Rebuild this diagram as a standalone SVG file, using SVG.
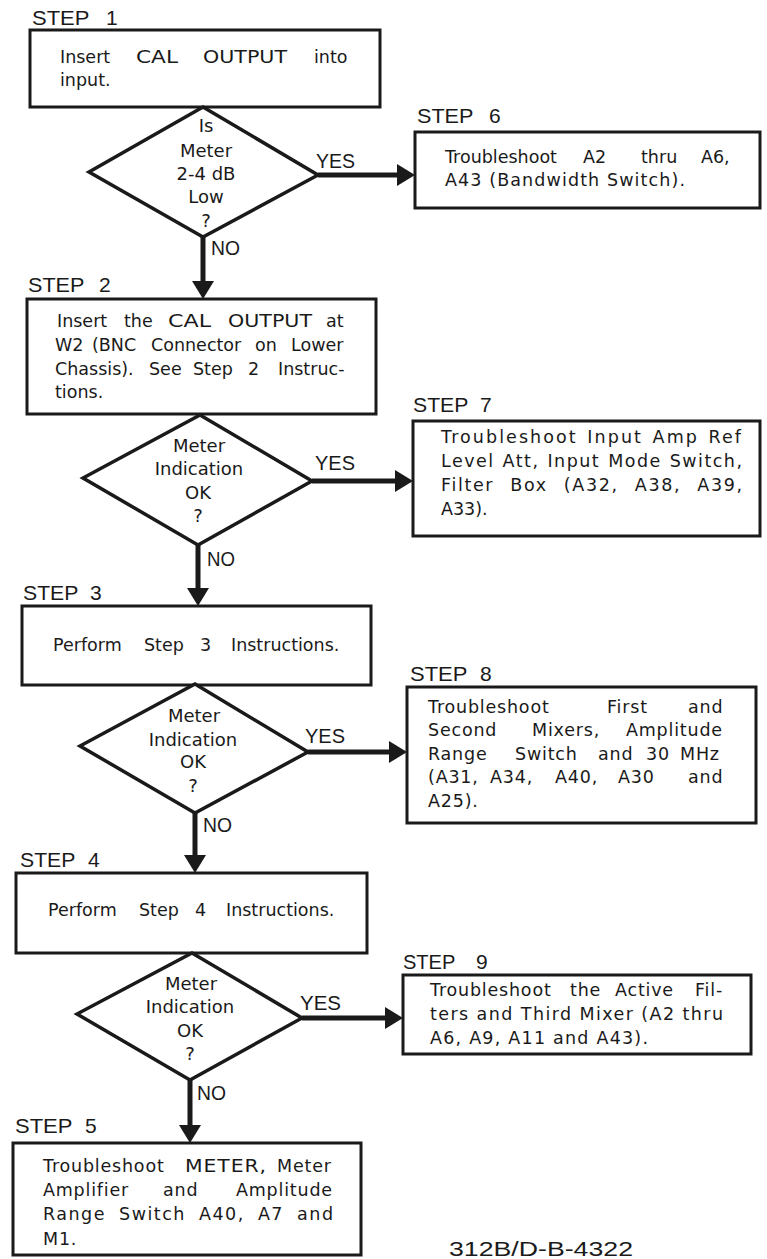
<svg xmlns="http://www.w3.org/2000/svg" width="767" height="1259" viewBox="0 0 767 1259">
<style>
.box{fill:#fff;stroke:#1a1a1a;stroke-width:3;stroke-linejoin:miter}
.dia{fill:#fff;stroke:#1a1a1a;stroke-width:3.5;stroke-linejoin:miter}
.con{stroke:#1a1a1a;stroke-width:5;fill:none}
.t{font-family:"DejaVu Sans","Liberation Sans",Arial,sans-serif;font-size:17.5px;fill:#1a1a1a}
.w{letter-spacing:0.8px}
.d{font-family:"DejaVu Sans","Liberation Sans",Arial,sans-serif;font-size:18px;fill:#1a1a1a;text-anchor:middle}
.lbl{font-family:"Liberation Sans",Arial,sans-serif;font-size:21px;fill:#1a1a1a}
.yn{font-family:"Liberation Sans",Arial,sans-serif;font-size:19.5px;fill:#1a1a1a}
</style>
<defs>
<marker id="ah" viewBox="0 0 18 22" markerWidth="18" markerHeight="22" refX="8" refY="11" orient="auto" markerUnits="userSpaceOnUse">
<path d="M0,0 L18,11 L0,22 Z" fill="#1a1a1a"/>
</marker>
</defs>
<rect width="767" height="1259" fill="#fff"/>

<g id="connectors">
<line class="con" x1="318" y1="175" x2="405" y2="175" marker-end="url(#ah)"/>
<line class="con" x1="203" y1="237" x2="203" y2="289" marker-end="url(#ah)"/>
<line class="con" x1="312" y1="481" x2="403" y2="481" marker-end="url(#ah)"/>
<line class="con" x1="198" y1="545" x2="198" y2="596" marker-end="url(#ah)"/>
<line class="con" x1="308" y1="752" x2="397" y2="752" marker-end="url(#ah)"/>
<line class="con" x1="195" y1="813" x2="195" y2="863" marker-end="url(#ah)"/>
<line class="con" x1="302" y1="1018" x2="393" y2="1018" marker-end="url(#ah)"/>
<line class="con" x1="190" y1="1080" x2="190" y2="1133" marker-end="url(#ah)"/>
<text class="yn" x="316" y="168" textLength="39" lengthAdjust="spacingAndGlyphs">YES</text>
<text class="yn" x="211" y="255" textLength="29" lengthAdjust="spacingAndGlyphs">NO</text>
<text class="yn" x="315" y="470" textLength="40" lengthAdjust="spacingAndGlyphs">YES</text>
<text class="yn" x="207" y="566" textLength="28" lengthAdjust="spacingAndGlyphs">NO</text>
<text class="yn" x="305" y="743" textLength="40" lengthAdjust="spacingAndGlyphs">YES</text>
<text class="yn" x="203" y="832" textLength="29" lengthAdjust="spacingAndGlyphs">NO</text>
<text class="yn" x="300" y="1010" textLength="41" lengthAdjust="spacingAndGlyphs">YES</text>
<text class="yn" x="197" y="1100" textLength="29" lengthAdjust="spacingAndGlyphs">NO</text>
</g>

<g id="step1">
<text class="lbl" y="25"><tspan x="32" textLength="57" lengthAdjust="spacingAndGlyphs">STEP</tspan> <tspan x="106">1</tspan></text>
<rect class="box" x="30" y="30" width="350" height="77"/>
<text class="t" y="63"><tspan x="60">Insert</tspan> <tspan x="136" textLength="42" lengthAdjust="spacingAndGlyphs">CAL</tspan> <tspan x="203" textLength="84" lengthAdjust="spacingAndGlyphs">OUTPUT</tspan> <tspan x="314">into</tspan></text>
<text class="t" x="60" y="86">input.</text>
</g>

<g id="decision1">
<polygon class="dia" points="203,107 318,175 203,237 89,172"/>
<text class="d" x="206" y="132">Is</text>
<text class="d" x="206" y="157">Meter</text>
<text class="d" x="206" y="180">2-4 dB</text>
<text class="d" x="206" y="203">Low</text>
<text class="d" x="206" y="227">?</text>
</g>

<g id="step6">
<text class="lbl" y="123"><tspan x="417" textLength="56" lengthAdjust="spacingAndGlyphs">STEP</tspan> <tspan x="489">6</tspan></text>
<rect class="box" x="415" y="132" width="345" height="76"/>
<text class="t" y="163"><tspan x="445">Troubleshoot</tspan> <tspan x="583">A2</tspan> <tspan x="641">thru</tspan> <tspan x="701">A6,</tspan></text>
<text class="t" x="445" y="186" textLength="240" lengthAdjust="spacing">A43 (Bandwidth Switch).</text>
</g>

<g id="step2">
<text class="lbl" y="292"><tspan x="28" textLength="56" lengthAdjust="spacingAndGlyphs">STEP</tspan> <tspan x="99">2</tspan></text>
<rect class="box" x="27" y="299" width="349" height="115"/>
<text class="t" y="327"><tspan x="57">Insert</tspan> <tspan x="124">the</tspan> <tspan x="168" textLength="43" lengthAdjust="spacingAndGlyphs">CAL</tspan> <tspan x="228" textLength="84" lengthAdjust="spacingAndGlyphs">OUTPUT</tspan> <tspan x="326">at</tspan></text>
<text class="t" y="351"><tspan x="55">W2</tspan> <tspan x="92">(BNC</tspan> <tspan x="151">Connector</tspan> <tspan x="255">on</tspan> <tspan x="291">Lower</tspan></text>
<text class="t" y="375"><tspan x="55">Chassis).</tspan> <tspan x="149">See</tspan> <tspan x="193">Step</tspan> <tspan x="248">2</tspan> <tspan x="278">Instruc-</tspan></text>
<text class="t" x="55" y="398">tions.</text>
</g>

<g id="decision2">
<polygon class="dia" points="200,415 312,481 198,545 83,478"/>
<text class="d" x="199" y="452">Meter</text>
<text class="d" x="199" y="475">Indication</text>
<text class="d" x="198" y="499">OK</text>
<text class="d" x="198" y="522">?</text>
</g>

<g id="step7">
<text class="lbl" y="412"><tspan x="413" textLength="55" lengthAdjust="spacingAndGlyphs">STEP</tspan> <tspan x="480">7</tspan></text>
<rect class="box" x="413" y="421" width="347" height="115"/>
<text class="t" x="441" y="443" textLength="300" lengthAdjust="spacing" style="word-spacing:2px">Troubleshoot Input Amp Ref</text>
<text class="t" x="441" y="467" textLength="301" lengthAdjust="spacing" style="word-spacing:1px">Level Att, Input Mode Switch,</text>
<text class="t" x="441" y="491" textLength="301" lengthAdjust="spacing" style="word-spacing:9px">Filter Box (A32, A38, A39,</text>
<text class="t" x="441" y="515">A33).</text>
</g>

<g id="step3">
<text class="lbl" y="600"><tspan x="23" textLength="55" lengthAdjust="spacingAndGlyphs">STEP</tspan> <tspan x="90">3</tspan></text>
<rect class="box" x="22" y="606" width="349" height="79"/>
<text class="t" y="651"><tspan x="53">Perform</tspan> <tspan x="144">Step</tspan> <tspan x="200">3</tspan> <tspan x="231">Instructions.</tspan></text>
</g>

<g id="decision3">
<polygon class="dia" points="195,684 308,752 195,813 80,746"/>
<text class="d" x="194" y="722">Meter</text>
<text class="d" x="193" y="746">Indication</text>
<text class="d" x="193" y="768">OK</text>
<text class="d" x="193" y="792">?</text>
</g>

<g id="step8">
<text class="lbl" y="681"><tspan x="410" textLength="57" lengthAdjust="spacingAndGlyphs">STEP</tspan> <tspan x="480">8</tspan></text>
<rect class="box" x="407" y="687" width="349" height="136"/>
<text class="t w" y="713"><tspan x="428">Troubleshoot</tspan> <tspan x="607">First</tspan> <tspan x="688">and</tspan></text>
<text class="t w" y="736"><tspan x="428">Second</tspan> <tspan x="532">Mixers,</tspan> <tspan x="626">Amplitude</tspan></text>
<text class="t w" y="760"><tspan x="428">Range</tspan> <tspan x="515">Switch</tspan> <tspan x="598">and</tspan> <tspan x="646">30</tspan> <tspan x="680">MHz</tspan></text>
<text class="t w" y="783"><tspan x="428">(A31,</tspan> <tspan x="490">A34,</tspan> <tspan x="555">A40,</tspan> <tspan x="618">A30</tspan> <tspan x="688">and</tspan></text>
<text class="t w" x="428" y="807">A25).</text>
</g>

<g id="step4">
<text class="lbl" y="867"><tspan x="20" textLength="55" lengthAdjust="spacingAndGlyphs">STEP</tspan> <tspan x="88">4</tspan></text>
<rect class="box" x="16" y="873" width="351" height="80"/>
<text class="t" y="916"><tspan x="48">Perform</tspan> <tspan x="139">Step</tspan> <tspan x="195">4</tspan> <tspan x="226">Instructions.</tspan></text>
</g>

<g id="decision4">
<polygon class="dia" points="192,953 302,1018 190,1080 77,1014"/>
<text class="d" x="191" y="990">Meter</text>
<text class="d" x="190" y="1013">Indication</text>
<text class="d" x="190" y="1037">OK</text>
<text class="d" x="190" y="1060">?</text>
</g>

<g id="step9">
<text class="lbl" y="969"><tspan x="403" textLength="52" lengthAdjust="spacingAndGlyphs">STEP</tspan> <tspan x="476">9</tspan></text>
<rect class="box" x="403" y="975" width="348" height="79"/>
<text class="t w" y="996"><tspan x="430">Troubleshoot</tspan> <tspan x="570">the</tspan> <tspan x="615">Active</tspan> <tspan x="695">Fil-</tspan></text>
<text class="t" x="430" y="1020" textLength="293" lengthAdjust="spacing">ters and Third Mixer (A2 thru</text>
<text class="t" x="430" y="1044" textLength="218" lengthAdjust="spacing">A6, A9, A11 and A43).</text>
</g>

<g id="step5">
<text class="lbl" y="1133"><tspan x="15" textLength="57" lengthAdjust="spacingAndGlyphs">STEP</tspan> <tspan x="85">5</tspan></text>
<rect class="box" x="13" y="1143" width="348" height="112"/>
<text class="t w" y="1172"><tspan x="43">Troubleshoot</tspan> <tspan x="185" textLength="82" lengthAdjust="spacingAndGlyphs">METER,</tspan> <tspan x="277">Meter</tspan></text>
<text class="t w" y="1196"><tspan x="43">Amplifier</tspan> <tspan x="163">and</tspan> <tspan x="236">Amplitude</tspan></text>
<text class="t" x="43" y="1220" textLength="290" lengthAdjust="spacing" style="word-spacing:6px">Range Switch A40, A7 and</text>
<text class="t w" x="43" y="1245">M1.</text>
</g>

<text class="yn" x="449" y="1256" textLength="184" lengthAdjust="spacingAndGlyphs">312B/D-B-4322</text>
</svg>
